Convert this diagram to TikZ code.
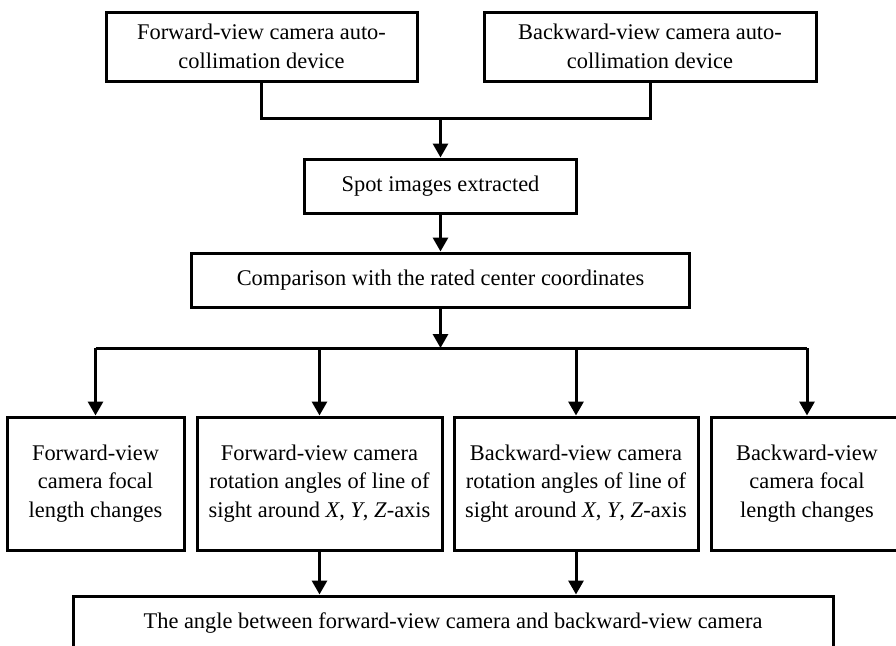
\documentclass[tikz,border=0pt]{standalone}
\usepackage{fontspec}
\setmainfont{Liberation Serif}
\usetikzlibrary{arrows.meta}

\begin{document}
\begin{tikzpicture}[x=0.5pt, y=-0.5pt, line width=1.5pt,
    >={Triangle[width=7.5pt,length=7pt]},
    box/.style={draw, rectangle, align=center, inner sep=0pt,
      font=\fontsize{11.2}{14.2}\selectfont}]
    \useasboundingbox (0,0) rectangle (896,645);
    \clip (0,0) rectangle (896,645);

    % 自准直装置
    \node[box, minimum width=155.5pt, minimum height=34.5pt] (fwddev) at (261.5,46.5) {Forward-view camera auto-\\collimation device};
    \node[box, minimum width=166pt, minimum height=34.5pt] (bwddev) at (650,46.5) {Backward-view camera auto-\\collimation device};

    % 光斑提取与比较
    \node[box, minimum width=136pt, minimum height=27pt] (spot) at (440.5,186) {Spot images extracted};
    \node[box, minimum width=249pt, minimum height=27pt] (compare) at (440.5,280) {Comparison with the rated center coordinates};

    % 四个结果
    \node[box, minimum width=88.5pt, minimum height=66.5pt] (fwdfocal) at (95.5,483.5) {Forward-view\\camera focal\\length changes};
    \node[box, minimum width=122.5pt, minimum height=66.5pt] (fwdrot) at (319.5,483.5) {Forward-view camera\\rotation angles of line of\\sight around \textit{X}, \textit{Y}, \textit{Z}-axis};
    \node[box, minimum width=122pt, minimum height=66.5pt] (bwdrot) at (576,483.5) {Backward-view camera\\rotation angles of line of\\sight around \textit{X}, \textit{Y}, \textit{Z}-axis};
    \node[box, minimum width=96pt, minimum height=66.5pt] (bwdfocal) at (807,483.5) {Backward-view\\camera focal\\length changes};

    % 夹角
    \node[box, minimum width=380pt, minimum height=27.5pt] (angle) at (453,623.5) {The angle between forward-view camera and backward-view camera};

    % 连线
    \coordinate (join) at (440.5,118);
    \coordinate (split) at (440.5,348);
    \draw (fwddev.south) |- (join) -| (bwddev.south);
    \draw[->] (join) -- (spot.north);
    \draw[->] (spot) -- (compare);
    \draw[->] (compare) -- (split);
    \draw (fwdfocal.north |- split) -- (bwdfocal.north |- split);
    \foreach \n in {fwdfocal,fwdrot,bwdrot,bwdfocal}
      \draw[->] (\n.north |- split) -- (\n.north);
    \draw[->] (fwdrot.south) -- (fwdrot.south |- angle.north);
    \draw[->] (bwdrot.south) -- (bwdrot.south |- angle.north);
\end{tikzpicture}
\end{document}
